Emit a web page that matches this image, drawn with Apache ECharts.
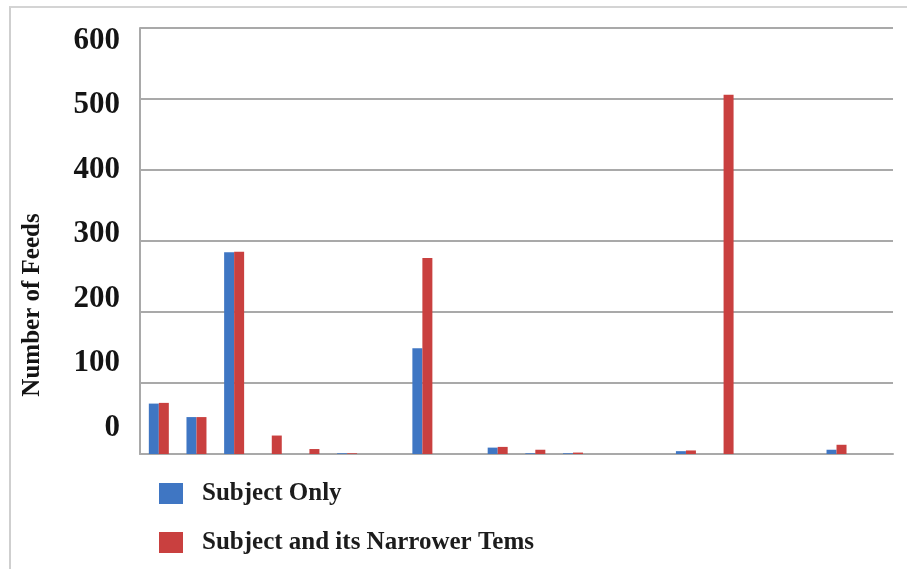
<!DOCTYPE html>
<html>
<head>
<meta charset="utf-8">
<script src="https://cdn.jsdelivr.net/npm/echarts@6/dist/echarts.min.js"></script>
<style>
  html, body { margin: 0; padding: 0; background: #fff; }
  #wrap { position: relative; width: 907px; height: 569px; }
  #chart { position: absolute; left: 0; top: 0; width: 907px; height: 569px; }
  #frame { position: absolute; left: 9px; top: 6px; right: 0; bottom: 0;
           border-left: 2px solid #cfcfcf; border-top: 2px solid #d4d4d4; pointer-events: none; }
</style>
</head>
<body>
<div id="wrap">
  <div id="chart"></div>
  <div id="frame"></div>
</div>
<script>
// Feed counts per subject (20 subjects along the horizontal axis)
const categories = ['S1','S2','S3','S4','S5','S6','S7','S8','S9','S10',
                    'S11','S12','S13','S14','S15','S16','S17','S18','S19','S20'];
const subjectOnly   = [71, 52, 284, 0, 0, 1, 0, 149, 0, 9, 1, 1, 0, 0, 4, 0, 0, 0, 6, 0];
const withNarrower  = [72, 52, 285, 26, 7, 1, 0, 276, 0, 10, 6, 2, 0, 0, 5, 506, 0, 0, 13, 0];
const tickValues    = [0, 100, 200, 300, 400, 500, 600];
const seriesNames   = ['Subject Only', 'Subject and its Narrower Tems'];

const serif = '"Liberation Serif", "DejaVu Serif", serif';
const gridColor = '#a9a9a9';

const chart = echarts.init(document.getElementById('chart'), null, { renderer: 'canvas' });
chart.setOption({
  animation: false,
  backgroundColor: '#ffffff',
  grid: { left: 140, right: 14, top: 28, bottom: 115, containLabel: false },
  legend: {
    orient: 'vertical',
    left: 159,
    top: 481,
    padding: 0,
    itemWidth: 24,
    itemHeight: 21,
    itemGap: 24,
    icon: 'rect',
    textStyle: { fontFamily: serif, fontWeight: 'bold', fontSize: 25, color: '#1c1c1c', padding: [0, 0, 0, 14] },
    data: seriesNames
  },
  xAxis: {
    type: 'category',
    data: categories,
    boundaryGap: true,
    axisLine: { show: true, lineStyle: { color: gridColor, width: 2 } },
    axisTick: { show: false },
    axisLabel: { show: false },
    splitLine: { show: false }
  },
  yAxis: [
    {
      type: 'value',
      min: 0,
      max: 600,
      interval: 100,
      position: 'left',
      axisLine: { show: true, lineStyle: { color: gridColor, width: 2 } },
      axisTick: { show: false },
      axisLabel: { show: false },
      splitLine: { show: true, lineStyle: { color: gridColor, width: 2 } }
    },
    {
      // label-only axis: carries the tick numbers and the axis title
      type: 'value',
      min: -41,
      max: 620,
      position: 'left',
      axisLine: { show: false },
      axisTick: { show: false },
      splitLine: { show: false },
      axisLabel: {
        show: true,
        customValues: tickValues,
        margin: 20,
        fontFamily: serif,
        fontWeight: 'bold',
        fontSize: 31,
        color: '#141414'
      },
      name: 'Number of Feeds',
      nameLocation: 'middle',
      nameRotate: 90,
      nameGap: 95,
      nameTextStyle: { fontFamily: serif, fontWeight: 'bold', fontSize: 25, color: '#141414', padding: [0, 128, 0, 0] }
    }
  ],
  series: [
    {
      name: seriesNames[0],
      type: 'bar',
      data: subjectOnly,
      barWidth: 10,
      barGap: '0%',
      itemStyle: { color: '#3f76c3' }
    },
    {
      name: seriesNames[1],
      type: 'bar',
      data: withNarrower,
      barWidth: 10,
      barGap: '0%',
      itemStyle: { color: '#c9403f' }
    }
  ]
});
</script>
</body>
</html>
